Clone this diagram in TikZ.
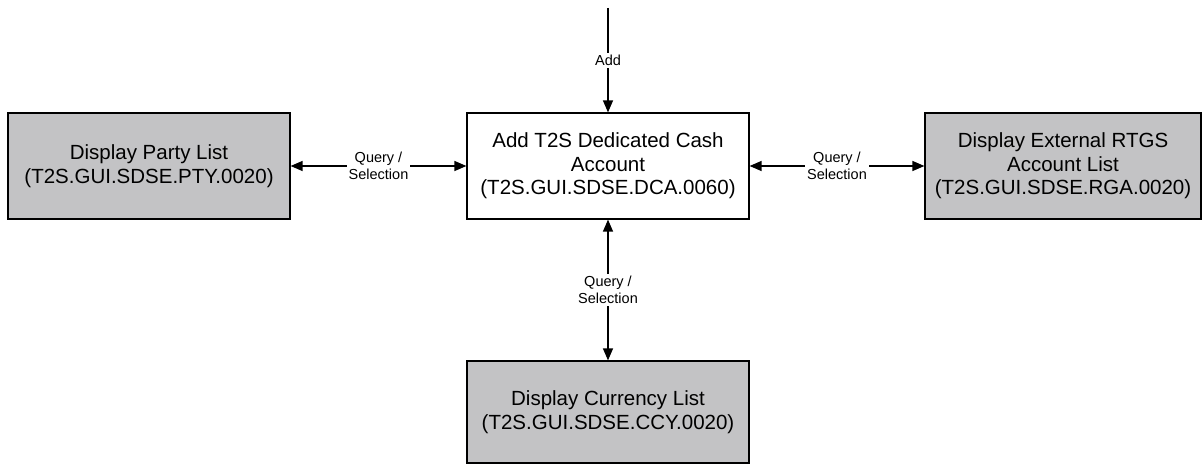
\documentclass[tikz,border=0pt]{standalone}
\usepackage{fontspec}
\setmainfont{Liberation Sans}
\usetikzlibrary{arrows.meta}
\definecolor{boxgray}{RGB}{195,195,197}
\tikzset{
	screen/.style={draw, line width=1.2pt, align=center, inner sep=2pt,
		minimum width=282pt, minimum height=106pt,
		font=\fontsize{20.5}{23.5}\selectfont},
	listscreen/.style={screen, fill=boxgray},
	flow/.style={line width=1.3pt, -{Triangle[length=12pt,width=10pt]}},
	flowboth/.style={line width=1.3pt, {Triangle[length=12pt,width=10pt]}-{Triangle[length=12pt,width=10pt]}},
	flowlabel/.style={fill=white, inner sep=2pt, align=center,
		font=\fontsize{14.5}{16.5}\selectfont}
}
\begin{document}
\begin{tikzpicture}[x=1pt,y=1pt]
				\useasboundingbox (0,0) rectangle (1203,-465);
				\coordinate (top) at (608,-8);
				\node [screen] (dca) at (608,-166) {Add T2S Dedicated Cash\\Account\\(T2S.GUI.SDSE.DCA.0060)};
				\node [listscreen] (pty) at (149,-166) {Display Party List\\(T2S.GUI.SDSE.PTY.0020)};
				\node [listscreen, minimum width=276pt] (rga) at (1063,-166) {Display External RTGS\\Account List\\(T2S.GUI.SDSE.RGA.0020)};
				\node [listscreen, minimum height=102pt] (ccy) at (608,-412) {Display Currency List\\(T2S.GUI.SDSE.CCY.0020)};
				%\draw [dashed] (dca) -- (ccy);
				\draw [flow] (top) -- node [flowlabel] {Add} (dca);
				\draw [flowboth] (pty) -- node [flowlabel] {Query /\\Selection} (dca);
				\draw [flowboth] (dca) -- node [flowlabel] {Query /\\Selection} (rga);
				\draw [flowboth] (dca) -- node [flowlabel] {Query /\\Selection} (ccy);
			\end{tikzpicture}
\end{document}
